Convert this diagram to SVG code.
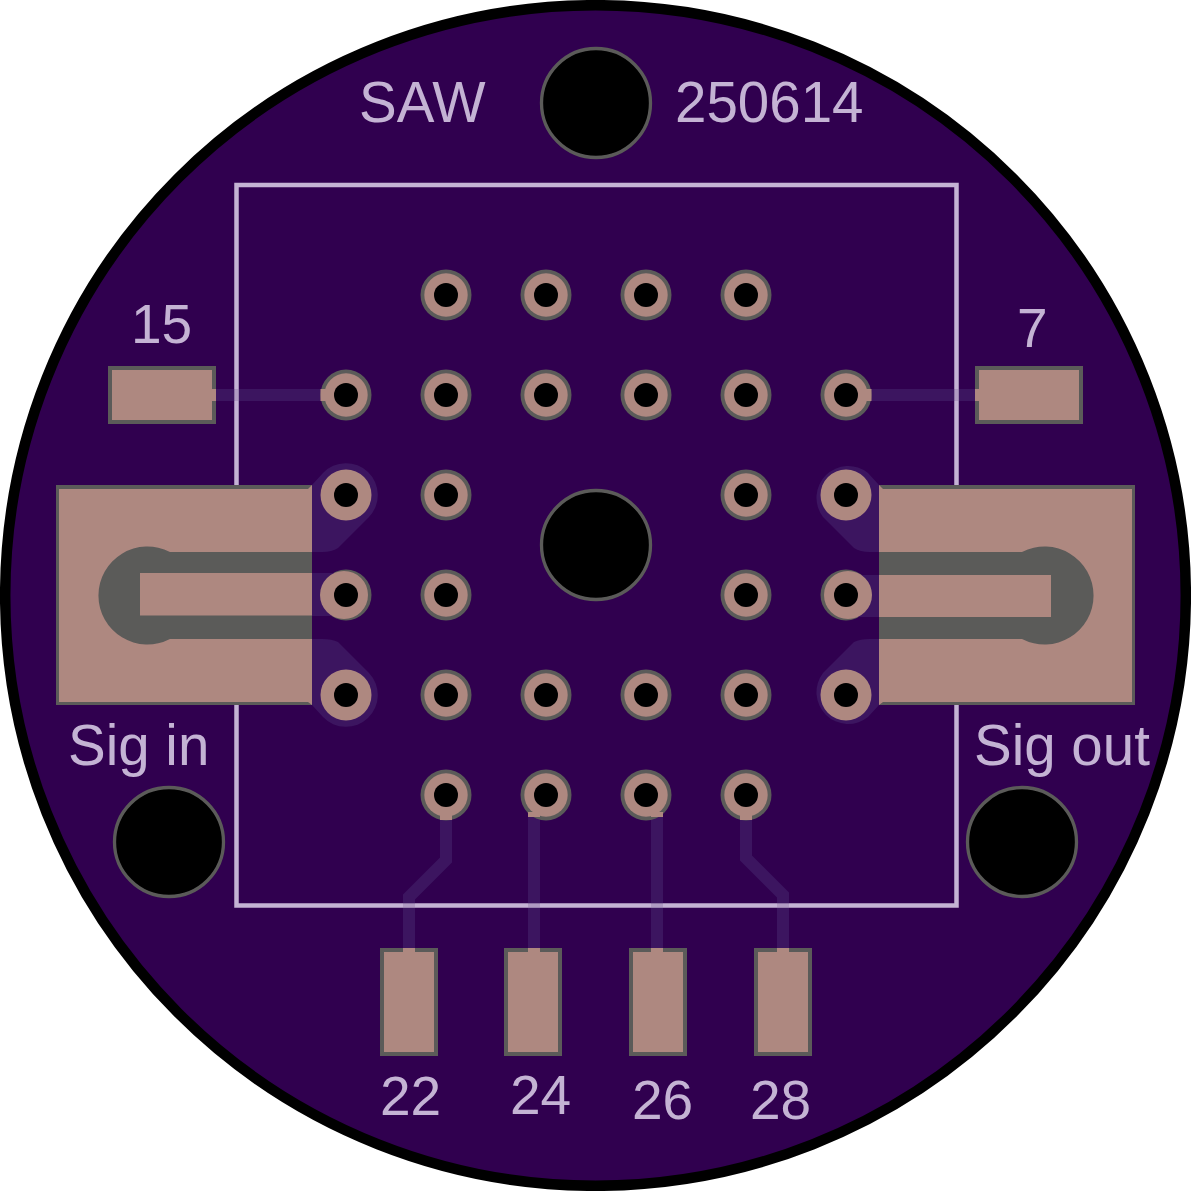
<svg xmlns="http://www.w3.org/2000/svg" width="1191" height="1191" viewBox="0 0 1191 1191">
<style>
.cu{fill:#ae8880}.gr{fill:#5b5b59}.tr{fill:#3c1560}.tl{fill:none;stroke:#3c1560;stroke-width:12}
.hole{fill:#000}.mh{fill:#000;stroke:#5b5b59;stroke-width:3.3}
.pad{fill:#ae8880;stroke:#5b5b59;stroke-width:4}
text{font-family:"Liberation Sans",Arial,sans-serif;font-size:56.500px;fill:#c4b3d4}
text.n{font-size:55px}
</style>
<defs>
<g id="via"><circle r="25.5" class="gr"/><circle r="21.7" class="cu"/><circle r="12" class="hole"/></g>
<g id="viaf"><circle r="25.5" class="cu"/><circle r="12" class="hole"/></g>
</defs>
<rect width="1191" height="1191" fill="#fff"/>
<circle id="board" cx="595.5" cy="595.5" r="590.300" fill="#30004f" stroke="#000" stroke-width="10.500"/>
<rect id="silk-outline" x="236.5" y="185" width="720" height="720.5" fill="none" stroke="#c4b3d4" stroke-width="4.5"/>
<g id="connectors">
<path class="tl" d="M215 395H346M846 395H977M446 795V860L409 897V949M534 795V949M657 795V949M746 795V858L783 895V949"/>
<path class="tr" d="M312 485L323 473A31.700 31.700 0 0 1 369 517L338 548Q332 552 322 552H312ZM312 705L323 717A31.700 31.700 0 0 0 369 673L338 642Q332 639 322 639H312Z"/>
<path class="tr" d="M879 485L868 473A31.700 31.700 0 0 0 823 517L854 548Q860 552 870 552H879ZM879 705L868 717A31.700 31.700 0 0 1 823 673L854 642Q860 639 870 639H879Z"/>
</g>
<g id="silk-cross" fill="#c4b3d4" opacity=".85"><rect x="234.300" y="389" width="4.500" height="12"/><rect x="954.300" y="389" width="4.500" height="12"/><rect x="403" y="903.300" width="12" height="4.500"/><rect x="528" y="903.300" width="12" height="4.500"/><rect x="651" y="903.300" width="12" height="4.500"/><rect x="777" y="903.300" width="12" height="4.500"/></g>
<g id="pad-left">
<rect x="56" y="485" width="256" height="220" class="gr"/>
<path class="cu" d="M59 489H308L312 485V705L308 702H59Z"/>
<path class="gr" d="M312 552H170A49 49 0 1 0 170 639H312Z"/>
<rect x="140" y="573" width="172" height="42.500" class="cu"/>
</g>
<g id="pad-right">
<rect x="879" y="485" width="256" height="220" class="gr"/>
<path class="cu" d="M879 485L883 489H1132V702H883L879 705Z"/>
<path class="gr" d="M879 552H1022A49 49 0 1 1 1022 639H879Z"/>
<rect x="879" y="575" width="172" height="42" class="cu"/>
</g>
<g id="pad-15"><rect class="pad" x="110" y="368" width="104" height="54"/><rect class="cu" x="212" y="389" width="4" height="12"/></g>
<g id="pad-7"><rect class="pad" x="977" y="368" width="104" height="54"/><rect class="cu" x="975" y="389" width="4" height="12"/></g>
<g id="pad-22"><rect class="pad" x="382" y="950" width="54" height="104"/><rect class="cu" x="403" y="948" width="12" height="4"/></g>
<g id="pad-24"><rect class="pad" x="506" y="950" width="54" height="104"/><rect class="cu" x="528" y="948" width="12" height="4"/></g>
<g id="pad-26"><rect class="pad" x="631" y="950" width="54" height="104"/><rect class="cu" x="651" y="948" width="12" height="4"/></g>
<g id="pad-28"><rect class="pad" x="756" y="950" width="54" height="104"/><rect class="cu" x="777" y="948" width="12" height="4"/></g>
<g id="vias">
<use href="#via" x="446" y="295"/><use href="#via" x="546" y="295"/><use href="#via" x="646" y="295"/><use href="#via" x="746" y="295"/>
<use href="#via" x="346" y="395"/><use href="#via" x="446" y="395"/><use href="#via" x="546" y="395"/><use href="#via" x="646" y="395"/><use href="#via" x="746" y="395"/><use href="#via" x="846" y="395"/>
<use href="#viaf" x="346" y="495"/><use href="#via" x="446" y="495"/><use href="#via" x="746" y="495"/><use href="#viaf" x="846" y="495"/>
<use href="#via" x="446" y="595"/><use href="#via" x="746" y="595"/>
<use href="#viaf" x="346" y="695"/><use href="#via" x="446" y="695"/><use href="#via" x="546" y="695"/><use href="#via" x="646" y="695"/><use href="#via" x="746" y="695"/><use href="#viaf" x="846" y="695"/>
<use href="#via" x="446" y="795"/><use href="#via" x="546" y="795"/><use href="#via" x="646" y="795"/><use href="#via" x="746" y="795"/>
<g id="via-346-595"><circle cx="346" cy="595" r="25.500" class="gr"/><rect class="tr" x="312" y="573" width="34" height="43"/><circle cx="344" cy="595" r="24" class="cu"/><circle cx="346" cy="595" r="12" class="hole"/></g>
<g id="via-846-595"><circle cx="846" cy="595" r="25.500" class="gr"/><rect class="tr" x="846" y="575" width="33" height="42"/><circle cx="848" cy="595" r="24" class="cu"/><circle cx="846" cy="595" r="12" class="hole"/></g>
<g id="tabs-cu" class="cu"><rect x="320.500" y="389" width="6" height="12"/><rect x="865.500" y="389" width="6" height="12"/><rect x="440" y="814" width="12" height="6"/><rect x="528" y="812" width="12" height="5"/><rect x="651" y="812" width="12" height="5"/><rect x="740" y="814" width="12" height="6"/></g>
</g>
<g id="holes">
<circle class="mh" cx="596" cy="103" r="54.500"/><circle class="mh" cx="596" cy="545" r="54.500"/><circle class="mh" cx="169" cy="842" r="54.500"/><circle class="mh" cx="1022" cy="842" r="54.500"/>
</g>
<g id="labels">
<text x="359" y="122">SAW</text><text x="675" y="122">250614</text>
<text class="n" x="131" y="343">15</text><text class="n" x="1017" y="347">7</text>
<text x="68" y="765">Sig in</text><text x="974" y="765">Sig out</text>
<text class="n" x="380" y="1115">22</text><text class="n" x="510" y="1114">24</text><text class="n" x="632" y="1119">26</text><text class="n" x="750" y="1119">28</text>
</g>
</svg>
